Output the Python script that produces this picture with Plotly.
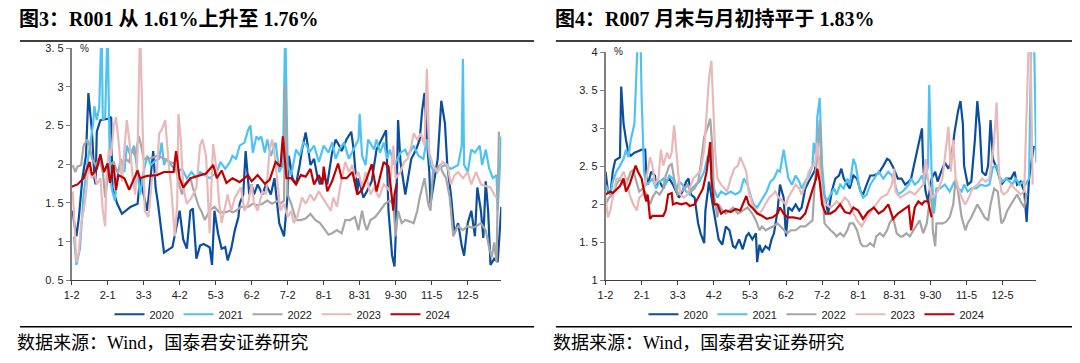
import plotly.graph_objects as go

# ---------- data (x = trading-day index from 1-2, y = %) ----------
tick_vals = [0, 30, 60, 90, 120, 150, 180, 210, 240, 270, 300, 330]
tick_text = ["1-2", "2-1", "3-3", "4-2", "5-3", "6-2", "7-2", "8-1", "8-31", "9-30", "11-5", "12-5"]
years = ["2020", "2021", "2022", "2023", "2024"]
colors = ["#0B4E9E", "#4EC3F3", "#A6A6A6", "#E8B9B8", "#C00000"]

r001_2020 = [(1,1.40),(2,1.26),(4,1.07),(6,1.30),(9,1.82),(12,2.11),(14,2.92),(15,2.73),(17,2.42),(19,1.82),(20,1.74),(21,2.42),(24,2.57),(31,2.59),(33,2.61),(34,1.70),(38,1.49),(42,1.36),(49,1.45),(55,1.49),(57,1.82),(60,1.61),(63,1.40),(68,2.17),(70,1.70),(72,1.49),(75,1.07),(77,0.86),(82,0.91),(84,0.93),(88,1.24),(90,1.40),(93,1.03),(96,0.91),(99,1.40),(101,1.43),(104,0.78),(107,0.95),(110,0.97),(115,0.93),(117,0.70),(119,1.40),(122,1.11),(125,0.91),(128,0.93),(130,0.76),(133,0.91),(136,1.15),(139,1.32),(140,1.49),(143,1.61),(145,2.17),(148,1.61),(150,1.74),(152,1.61),(155,1.74),(159,1.61),(162,1.74),(166,1.61),(169,1.82),(173,1.24),(177,1.07),(180,1.61),(181,2.11),(184,1.82),(187,1.74),(190,1.99),(192,2.19),(195,2.41),(196,2.32),(199,1.99),(202,2.07),(205,1.82),(207,1.74),(210,1.86),(213,1.74),(217,2.15),(220,2.32),(223,2.24),(225,2.17),(229,2.32),(233,2.42),(235,2.19),(238,1.61),(239,1.82),(243,1.57),(246,1.65),(250,1.78),(254,2.19),(258,2.32),(262,2.44),(264,1.40),(267,0.82),(269,0.68),(270,1.07),(272,2.57),(274,2.03),(278,1.61),(280,1.82),(283,2.07),(287,2.19),(290,2.32),(292,2.69),(294,2.92),(296,2.32),(298,1.90),(299,1.49),(302,1.78),(305,2.07),(308,2.82),(311,2.53),(313,1.99),(316,1.61),(319,1.11),(322,1.24),(325,0.95),(327,0.82),(330,1.24),(333,1.40),(336,1.07),(338,1.70),(341,1.40),(343,1.05),(345,1.78),(347,1.40),(349,0.70),(352,0.78),(355,0.74),(358,1.45)]
r001_2021 = [(2,1.07),(4,0.70),(7,0.91),(10,1.61),(13,1.99),(16,2.32),(18,2.53),(19,2.75),(21,2.57),(23,2.73),(25,3.8),(26,2.57),(28,2.61),(30,3.8),(32,1.82),(34,1.65),(36,1.53),(38,1.82),(41,2.07),(44,1.90),(46,2.24),(49,2.11),(52,2.24),(55,1.90),(57,1.61),(60,1.90),(63,2.11),(66,1.99),(70,2.05),(73,2.07),(75,2.28),(77,1.99),(79,2.07),(83,1.99),(88,1.90),(92,1.94),(96,1.82),(100,1.90),(104,1.82),(107,1.90),(115,1.82),(121,1.90),(124,2.03),(128,1.94),(132,2.03),(134,2.11),(137,2.07),(140,2.24),(144,2.28),(147,2.44),(149,2.50),(151,2.15),(154,2.36),(156,2.32),(158,2.36),(161,2.15),(163,2.32),(166,2.11),(170,2.28),(173,1.90),(176,1.99),(178,3.8),(180,1.99),(183,1.86),(187,2.19),(190,2.11),(193,2.28),(196,2.24),(198,2.15),(202,2.24),(206,2.03),(210,2.24),(214,2.15),(217,2.28),(220,2.07),(223,2.19),(227,2.28),(231,2.07),(235,2.19),(239,2.32),(240,2.65),(242,2.11),(245,1.99),(247,2.32),(252,2.19),(254,2.32),(257,2.15),(260,2.28),(263,2.07),(265,2.19),(269,1.99),(274,2.15),(278,2.19),(280,2.11),(285,2.24),(289,2.11),(293,2.07),(296,2.32),(299,1.99),(302,1.90),(305,1.94),(311,1.99),(316,1.94),(322,1.99),(325,2.24),(326,3.36),(327,1.99),(330,1.90),(333,2.19),(336,2.15),(340,2.24),(342,1.99),(345,2.19),(348,1.94),(351,1.82),(354,1.86),(355,1.40),(358,2.36)]
r001_2022 = [(1,1.99),(3,1.90),(5,1.97),(8,1.99),(10,2.24),(13,2.32),(15,2.24),(17,2.07),(20,1.99),(23,2.07),(26,1.90),(28,1.57),(30,1.82),(32,1.99),(35,2.03),(38,1.90),(41,1.99),(45,2.07),(48,2.03),(50,2.19),(53,2.11),(56,2.36),(58,2.24),(60,2.07),(64,2.07),(68,2.09),(72,2.11),(77,2.07),(82,2.03),(86,2.01),(89,1.78),(92,1.61),(94,1.74),(99,1.82),(101,1.70),(106,1.45),(108,1.40),(111,1.28),(115,1.40),(119,1.45),(123,1.38),(128,1.38),(132,1.40),(134,1.38),(137,1.40),(141,1.45),(147,1.45),(151,1.49),(155,1.47),(159,1.49),(163,1.53),(167,1.49),(172,1.53),(174,1.49),(177,1.53),(178,3.03),(180,1.61),(183,1.49),(187,1.28),(191,1.28),(195,1.30),(199,1.36),(203,1.28),(207,1.24),(211,1.15),(214,1.09),(217,1.11),(221,1.15),(225,1.11),(228,1.28),(232,1.28),(236,1.32),(239,1.15),(242,1.40),(244,1.24),(246,1.15),(249,1.28),(253,1.32),(257,1.40),(261,1.49),(265,1.53),(268,1.49),(270,1.07),(272,1.40),(275,1.24),(278,1.28),(282,1.26),(285,1.24),(288,1.40),(290,1.57),(294,1.82),(297,1.49),(299,1.40),(301,1.90),(304,1.94),(307,1.99),(309,1.90),(312,1.82),(315,1.57),(318,1.07),(320,1.15),(322,1.20),(326,1.15),(330,1.20),(334,1.18),(337,1.20),(341,1.24),(345,1.15),(348,0.91),(350,0.80),(352,0.99),(354,0.74),(356,2.42)]
r001_2023 = [(1,1.65),(3,0.99),(4,0.74),(6,0.86),(8,1.24),(10,1.40),(12,1.61),(14,1.99),(17,1.82),(19,1.90),(21,1.74),(24,1.82),(26,1.40),(28,1.20),(29,1.82),(31,2.19),(33,2.11),(35,2.49),(37,2.61),(39,2.32),(42,1.78),(44,2.19),(46,2.57),(48,2.32),(51,1.82),(53,1.61),(55,2.15),(57,3.8),(60,1.90),(61,1.40),(64,1.32),(67,1.82),(71,1.90),(73,2.40),(75,2.44),(78,2.57),(81,1.99),(83,1.70),(86,1.07),(88,1.49),(89,2.65),(91,2.32),(93,1.70),(96,1.49),(100,1.57),(104,1.70),(107,2.24),(109,2.32),(112,2.11),(115,1.11),(117,1.94),(118,2.26),(121,1.90),(123,1.49),(125,1.24),(128,1.49),(130,1.61),(133,1.40),(136,1.57),(139,1.65),(141,1.70),(144,1.40),(147,1.49),(150,1.74),(152,1.49),(155,1.40),(159,1.65),(162,1.61),(165,2.19),(167,2.32),(169,2.15),(172,1.70),(174,1.40),(177,1.49),(180,1.32),(183,1.40),(185,1.24),(188,1.32),(192,1.57),(195,1.49),(199,1.61),(202,1.53),(206,1.65),(209,1.57),(212,1.49),(216,1.40),(218,1.57),(221,1.45),(225,1.82),(228,2.03),(231,1.90),(234,1.99),(236,1.82),(239,1.90),(242,1.70),(245,1.90),(249,1.61),(252,1.70),(256,1.57),(260,1.74),(263,1.70),(265,1.65),(268,2.24),(270,1.82),(274,1.90),(277,2.03),(280,2.07),(283,2.24),(285,2.40),(288,2.32),(291,2.40),(294,2.24),(296,3.23),(298,2.15),(301,1.99),(305,1.90),(309,2.03),(313,1.99),(316,1.74),(319,1.86),(322,1.90),(326,1.82),(330,1.90),(333,1.74),(337,1.90),(341,1.74),(345,1.72),(349,1.70),(352,1.61),(354,1.57)]
r001_2024 = [(0,1.71),(5,1.74),(10,1.82),(15,2.03),(17,1.86),(21,1.94),(24,2.13),(27,1.90),(30,2.01),(32,1.76),(35,1.99),(37,1.67),(39,1.86),(44,1.82),(48,1.67),(52,1.82),(55,1.92),(57,1.82),(63,1.85),(71,1.86),(77,1.90),(85,1.90),(87,2.17),(90,1.82),(93,1.70),(99,1.82),(107,1.86),(112,1.88),(118,1.99),(121,1.82),(125,1.92),(129,1.76),(134,1.82),(140,1.77),(147,1.86),(150,1.78),(155,1.86),(161,1.75),(165,1.80),(170,2.03),(174,1.97),(176,2.36),(179,1.82),(183,1.82),(187,1.74),(191,1.86),(195,1.84),(199,1.94),(202,1.74),(206,1.86),(209,1.74),(210,1.97),(213,1.65),(217,1.78),(222,2.01),(225,1.82),(229,1.82),(234,1.90),(238,1.61),(242,1.67),(246,1.82),(250,2.00),(254,1.65),(260,2.03),(264,1.97),(268,1.40),(269,1.61),(271,1.76)]

r007_2020 = [(0,2.43),(2,2.17),(4,2.13),(6,2.43),(8,2.58),(12,2.62),(13,3.55),(15,3.06),(17,2.85),(19,2.68),(21,2.64),(24,2.68),(27,2.70),(30,2.72),(33,2.72),(34,2.38),(35,2.26),(38,2.43),(41,2.38),(42,2.26),(45,2.30),(48,2.21),(50,2.30),(53,2.34),(56,2.26),(59,2.17),(61,2.09),(64,2.17),(67,2.30),(69,2.34),(71,2.13),(74,2.09),(77,1.75),(79,1.62),(82,1.49),(83,1.92),(86,2.30),(89,2.00),(92,1.71),(94,1.54),(97,1.47),(100,1.71),(103,1.66),(106,1.45),(108,1.43),(111,1.54),(114,1.41),(117,1.58),(119,1.62),(122,1.54),(125,1.62),(126,1.24),(128,1.47),(130,1.37),(133,1.45),(136,1.41),(138,1.54),(140,1.62),(143,1.92),(145,2.26),(148,2.09),(150,1.58),(152,1.96),(155,1.92),(158,2.00),(161,1.92),(163,1.96),(166,2.21),(169,2.30),(172,2.38),(174,2.45),(176,2.68),(178,2.55),(180,2.26),(183,2.00),(185,1.88),(188,2.17),(191,2.34),(194,2.38),(196,2.47),(198,2.34),(201,2.26),(203,2.21),(206,2.38),(209,2.34),(212,2.17),(214,2.13),(217,2.26),(220,2.38),(223,2.38),(227,2.41),(231,2.51),(234,2.60),(236,2.58),(239,2.49),(243,2.34),(246,2.34),(249,2.26),(252,2.30),(254,2.34),(257,2.55),(260,2.77),(263,3.00),(264,2.51),(266,2.17),(268,2.04),(271,2.34),(274,2.43),(276,2.30),(279,2.43),(282,2.55),(285,2.47),(287,2.55),(290,2.94),(293,3.23),(295,3.36),(297,3.06),(298,2.51),(301,2.26),(304,2.30),(307,2.85),(309,3.36),(311,3.02),(313,2.43),(316,2.38),(318,2.51),(320,3.11),(322,2.60),(326,2.43),(329,2.26),(333,2.34),(337,2.34),(340,2.43),(342,2.26),(345,2.30),(348,2.17),(350,1.77),(352,2.34),(355,2.68),(356,2.77)]
r007_2021 = [(0,2.26),(4,2.13),(6,2.30),(9,2.43),(12,2.51),(15,2.60),(17,2.72),(19,2.62),(21,2.85),(24,3.06),(26,3.87),(27,4.3),(29,4.3),(30,3.40),(32,2.43),(34,2.26),(37,2.30),(39,2.34),(42,2.21),(45,2.30),(48,2.34),(50,2.26),(53,2.38),(56,2.34),(59,2.17),(61,2.30),(64,2.26),(67,2.17),(70,2.13),(72,2.21),(75,2.26),(78,2.30),(82,2.43),(85,2.64),(88,2.51),(90,2.21),(93,2.09),(96,2.17),(100,2.13),(104,2.17),(108,2.13),(112,2.17),(115,2.34),(118,2.26),(121,2.09),(123,2.00),(126,1.96),(129,2.04),(132,2.13),(134,2.17),(137,2.30),(140,2.34),(143,2.45),(145,2.43),(148,2.72),(150,2.51),(152,2.34),(155,2.26),(158,2.38),(161,2.30),(163,2.21),(166,2.30),(169,2.38),(172,2.51),(173,2.81),(175,2.64),(176,3.15),(178,3.40),(180,2.51),(182,2.13),(184,2.04),(187,2.13),(190,2.21),(192,2.13),(195,2.26),(198,2.21),(201,2.34),(203,2.26),(206,2.60),(208,2.51),(211,2.21),(214,2.09),(217,2.13),(220,2.26),(223,2.34),(227,2.43),(231,2.34),(235,2.43),(238,2.38),(240,2.30),(243,2.13),(247,2.17),(252,2.26),(254,2.34),(257,2.26),(260,2.30),(263,2.38),(265,2.26),(268,2.51),(269,3.57),(271,2.43),(273,1.88),(275,2.21),(278,2.21),(282,2.26),(286,2.17),(290,2.30),(293,2.21),(296,2.17),(298,2.26),(301,2.17),(304,2.21),(308,2.21),(312,2.26),(316,2.24),(319,2.26),(322,2.49),(325,2.51),(327,2.38),(330,2.30),(333,2.34),(336,2.30),(338,2.26),(341,2.34),(344,2.26),(347,2.30),(349,2.26),(352,2.34),(354,4.3),(356,4.3),(358,2.55)]
r007_2022 = [(0,2.00),(3,2.09),(6,2.13),(9,2.26),(12,2.34),(15,2.26),(18,2.30),(21,2.43),(23,2.45),(26,2.30),(28,2.17),(31,2.21),(34,2.13),(37,2.00),(39,2.09),(42,2.17),(45,2.13),(48,2.21),(50,2.38),(53,2.51),(55,2.53),(57,2.34),(60,2.13),(63,2.17),(66,2.21),(68,2.26),(71,2.17),(74,2.21),(77,2.30),(79,2.51),(82,2.89),(85,3.02),(87,3.13),(89,2.72),(90,2.13),(93,1.83),(94,2.00),(97,1.92),(100,1.88),(103,1.92),(106,1.96),(110,1.88),(114,1.92),(118,1.96),(122,1.88),(125,1.79),(128,1.66),(130,1.71),(133,1.66),(136,1.68),(139,1.71),(143,1.75),(147,1.68),(151,1.62),(154,1.66),(158,1.66),(162,1.71),(166,1.71),(169,1.75),(172,1.79),(174,2.30),(176,2.64),(178,3.11),(180,2.21),(182,1.75),(184,1.71),(187,1.66),(190,1.62),(192,1.58),(195,1.62),(198,1.58),(201,1.66),(203,1.75),(206,1.75),(209,1.66),(212,1.49),(214,1.45),(217,1.45),(220,1.49),(223,1.45),(225,1.58),(228,1.62),(231,1.58),(234,1.66),(236,1.75),(239,1.83),(242,1.62),(245,1.58),(247,1.58),(250,1.62),(253,1.58),(256,1.66),(258,1.71),(261,1.79),(264,1.62),(267,1.75),(269,2.00),(271,2.21),(272,1.66),(274,1.45),(275,1.75),(278,1.75),(280,1.75),(283,1.77),(286,1.83),(289,2.00),(291,2.34),(293,2.17),(296,1.83),(299,1.66),(301,1.75),(304,1.83),(307,1.92),(309,2.00),(312,1.92),(315,1.83),(318,1.79),(320,2.00),(323,2.21),(326,2.17),(329,1.75),(331,1.79),(334,1.92),(337,2.00),(340,2.09),(342,2.13),(345,2.04),(348,1.96),(350,2.15)]
r007_2023 = [(0,2.09),(2,1.83),(4,1.92),(7,2.17),(9,2.34),(12,2.34),(15,2.43),(17,2.34),(20,2.13),(23,2.00),(26,1.92),(28,2.09),(31,2.13),(34,2.34),(37,2.62),(39,2.51),(41,2.26),(44,2.34),(46,2.72),(48,2.51),(51,2.68),(53,2.60),(55,2.68),(57,3.04),(60,2.43),(62,2.13),(65,2.09),(68,2.13),(71,2.26),(73,2.34),(77,2.41),(79,2.43),(82,2.72),(84,3.27),(86,3.66),(88,3.89),(89,3.49),(91,2.72),(93,2.34),(96,2.26),(99,2.21),(101,2.17),(104,2.34),(107,2.47),(110,2.51),(112,2.62),(115,2.51),(117,2.43),(119,2.17),(122,2.00),(125,1.92),(128,1.88),(130,1.92),(133,2.00),(136,2.09),(139,2.13),(141,2.17),(144,2.09),(147,2.04),(150,2.00),(152,2.09),(155,2.17),(158,2.26),(161,2.21),(163,2.13),(166,2.26),(169,2.43),(172,2.51),(174,2.51),(176,2.81),(178,2.43),(180,2.13),(183,2.00),(187,1.96),(190,2.00),(192,2.04),(195,2.00),(199,2.09),(202,2.04),(205,1.92),(209,1.79),(213,1.71),(217,1.83),(221,1.92),(225,2.00),(229,2.09),(234,2.13),(238,2.26),(240,2.47),(241,2.17),(245,2.09),(249,2.13),(253,2.17),(257,2.13),(261,2.21),(264,2.26),(266,2.60),(268,2.34),(271,2.09),(274,2.13),(276,2.17),(280,2.34),(285,3.02),(287,2.43),(289,2.85),(291,2.34),(294,2.17),(296,2.09),(299,2.00),(302,2.09),(305,2.21),(309,2.26),(313,2.34),(316,2.30),(319,2.34),(322,2.68),(324,3.06),(325,3.34),(327,2.43),(329,2.17),(331,2.13),(334,2.17),(337,2.26),(340,2.21),(342,2.17),(345,2.13),(348,2.17),(350,3.27),(352,4.3),(353,4.3),(355,2.26)]
r007_2024 = [(0,2.13),(4,2.17),(6,2.15),(9,2.19),(12,2.24),(15,2.34),(17,2.17),(20,2.26),(23,2.43),(25,2.51),(27,2.43),(30,2.34),(33,2.09),(34,2.04),(35,2.13),(37,1.81),(39,1.85),(44,1.85),(48,1.85),(50,1.92),(52,2.13),(55,2.15),(56,2.00),(59,2.02),(63,2.00),(67,2.02),(70,1.98),(74,2.00),(78,2.13),(81,2.21),(84,2.43),(87,2.82),(88,2.34),(90,2.00),(93,2.00),(96,1.88),(100,1.92),(104,1.90),(108,1.94),(112,1.92),(117,2.11),(119,2.00),(123,1.94),(126,1.88),(130,1.85),(134,1.81),(139,1.83),(143,1.88),(145,1.96),(148,1.88),(151,1.83),(156,1.83),(162,1.81),(166,1.88),(170,2.09),(173,2.26),(175,2.34),(176,2.47),(178,2.30),(180,2.00),(183,1.88),(187,1.88),(191,1.92),(195,2.00),(199,1.90),(203,1.88),(206,1.96),(210,1.92),(214,1.81),(218,1.90),(223,1.96),(227,1.88),(231,1.92),(235,2.00),(239,1.81),(243,1.88),(247,1.92),(252,1.98),(254,1.66),(257,1.96),(260,2.04),(263,2.00),(265,2.04),(268,2.04),(271,1.83)]

left_series = [r001_2020, r001_2021, r001_2022, r001_2023, r001_2024]
right_series = [r007_2020, r007_2021, r007_2022, r007_2023, r007_2024]

left_yticks = [0.5, 1, 1.5, 2, 2.5, 3, 3.5]
left_ytext = ["0. 5", "1", "1. 5", "2", "2. 5", "3", "3. 5"]
right_yticks = [1, 1.5, 2, 2.5, 3, 3.5, 4]
right_ytext = ["1", "1. 5", "2", "2. 5", "3", "3. 5", "4"]

title_left = "图3：R001 从 1.61%上升至 1.76%"
title_right = "图4：R007 月末与月初持平于 1.83%"
source_text = "数据来源：Wind，国泰君安证券研究"

# ---------- figure (page body has an 8px margin, so the figure is inset) ----------
OFF = 8
W, H = 1080 - 2 * OFF, 363 - 2 * OFF
fig = go.Figure()

def px_x(p):
    return (p - OFF) / W

def px_y(p):
    return 1 - (p - OFF) / H

for i, yr in enumerate(years):
    xs, ys = zip(*left_series[i])
    fig.add_trace(go.Scatter(x=list(xs), y=list(ys), mode="lines", name=yr,
                             line=dict(color=colors[i], width=2.2),
                             xaxis="x", yaxis="y", legend="legend"))
for i, yr in enumerate(years):
    xs, ys = zip(*right_series[i])
    fig.add_trace(go.Scatter(x=list(xs), y=list(ys), mode="lines", name=yr,
                             line=dict(color=colors[i], width=2.2),
                             xaxis="x2", yaxis="y2", legend="legend2"))

tickfont = dict(family="Liberation Sans, Arial, sans-serif", size=11, color="#222222")
xcommon = dict(range=[0, 358], tickmode="array", tickvals=tick_vals, ticktext=tick_text,
               showgrid=False, zeroline=False, showline=True, linecolor="#404040", linewidth=1,
               ticks="outside", ticklen=4, tickcolor="#404040", tickfont=tickfont)
ycommon = dict(showgrid=False, zeroline=False, showline=True, linecolor="#808080", linewidth=1.5,
               ticks="outside", ticklen=4, tickcolor="#808080", tickfont=tickfont, tickmode="array")
legfont = dict(family="Liberation Sans, Arial, sans-serif", size=11, color="#222222")

fig.update_layout(
    width=W, height=H, margin=dict(l=0, r=0, t=0, b=0),
    paper_bgcolor="white", plot_bgcolor="white",
    xaxis=dict(domain=[px_x(64), px_x(497)], anchor="y", **xcommon),
    yaxis=dict(domain=[px_y(284), px_y(43.3)], anchor="x", range=[0.5, 3.5],
               tickvals=left_yticks, ticktext=left_ytext, **ycommon),
    xaxis2=dict(domain=[px_x(602), px_x(1036)], anchor="y2", **xcommon),
    yaxis2=dict(domain=[px_y(284), px_y(47.7)], anchor="x2", range=[1, 4],
                tickvals=right_yticks, ticktext=right_ytext, **ycommon),
    legend=dict(orientation="h", x=px_x(276), xanchor="center", y=px_y(319), yanchor="middle",
                font=legfont, itemwidth=30, bgcolor="rgba(0,0,0,0)",
                entrywidth=24, entrywidthmode="pixels"),
    legend2=dict(orientation="h", x=px_x(814), xanchor="center", y=px_y(319), yanchor="middle",
                 font=legfont, itemwidth=30, bgcolor="rgba(0,0,0,0)",
                 entrywidth=24, entrywidthmode="pixels"),
    showlegend=True,
)

title_font = dict(family="Liberation Serif, Noto Sans CJK SC, serif", size=20, color="#000000")
src_font = dict(family="Liberation Serif, Noto Sans CJK SC, serif", size=18, color="#000000")
ann = [
    dict(text="<b>" + title_left + "</b>", x=px_x(9), y=px_y(13), xanchor="left", yanchor="middle", font=title_font),
    dict(text="<b>" + title_right + "</b>", x=px_x(549), y=px_y(13), xanchor="left", yanchor="middle", font=title_font),
    dict(text=source_text, x=px_x(7), y=px_y(349), xanchor="left", yanchor="middle", font=src_font),
    dict(text=source_text, x=px_x(547), y=px_y(349), xanchor="left", yanchor="middle", font=src_font),
    dict(text="%", x=px_x(70), y=px_y(44), xanchor="left", yanchor="middle",
         font=dict(family="Liberation Sans, Arial, sans-serif", size=10, color="#222222")),
    dict(text="%", x=px_x(609), y=px_y(47), xanchor="left", yanchor="middle",
         font=dict(family="Liberation Sans, Arial, sans-serif", size=10, color="#222222")),
]
for a in ann:
    a.update(xref="paper", yref="paper", showarrow=False)
fig.update_layout(annotations=ann)

shapes = []
for (x0, x1) in [(12, 530), (552, 1072)]:
    shapes.append(dict(type="line", xref="paper", yref="paper", x0=px_x(x0), x1=px_x(x1),
                       y0=px_y(36), y1=px_y(36), line=dict(color="#000000", width=1.5)))
    shapes.append(dict(type="line", xref="paper", yref="paper", x0=px_x(x0), x1=px_x(x1),
                       y0=px_y(332), y1=px_y(332), line=dict(color="#000000", width=1.5)))
fig.update_layout(shapes=shapes)

fig.write_html("out.html")
